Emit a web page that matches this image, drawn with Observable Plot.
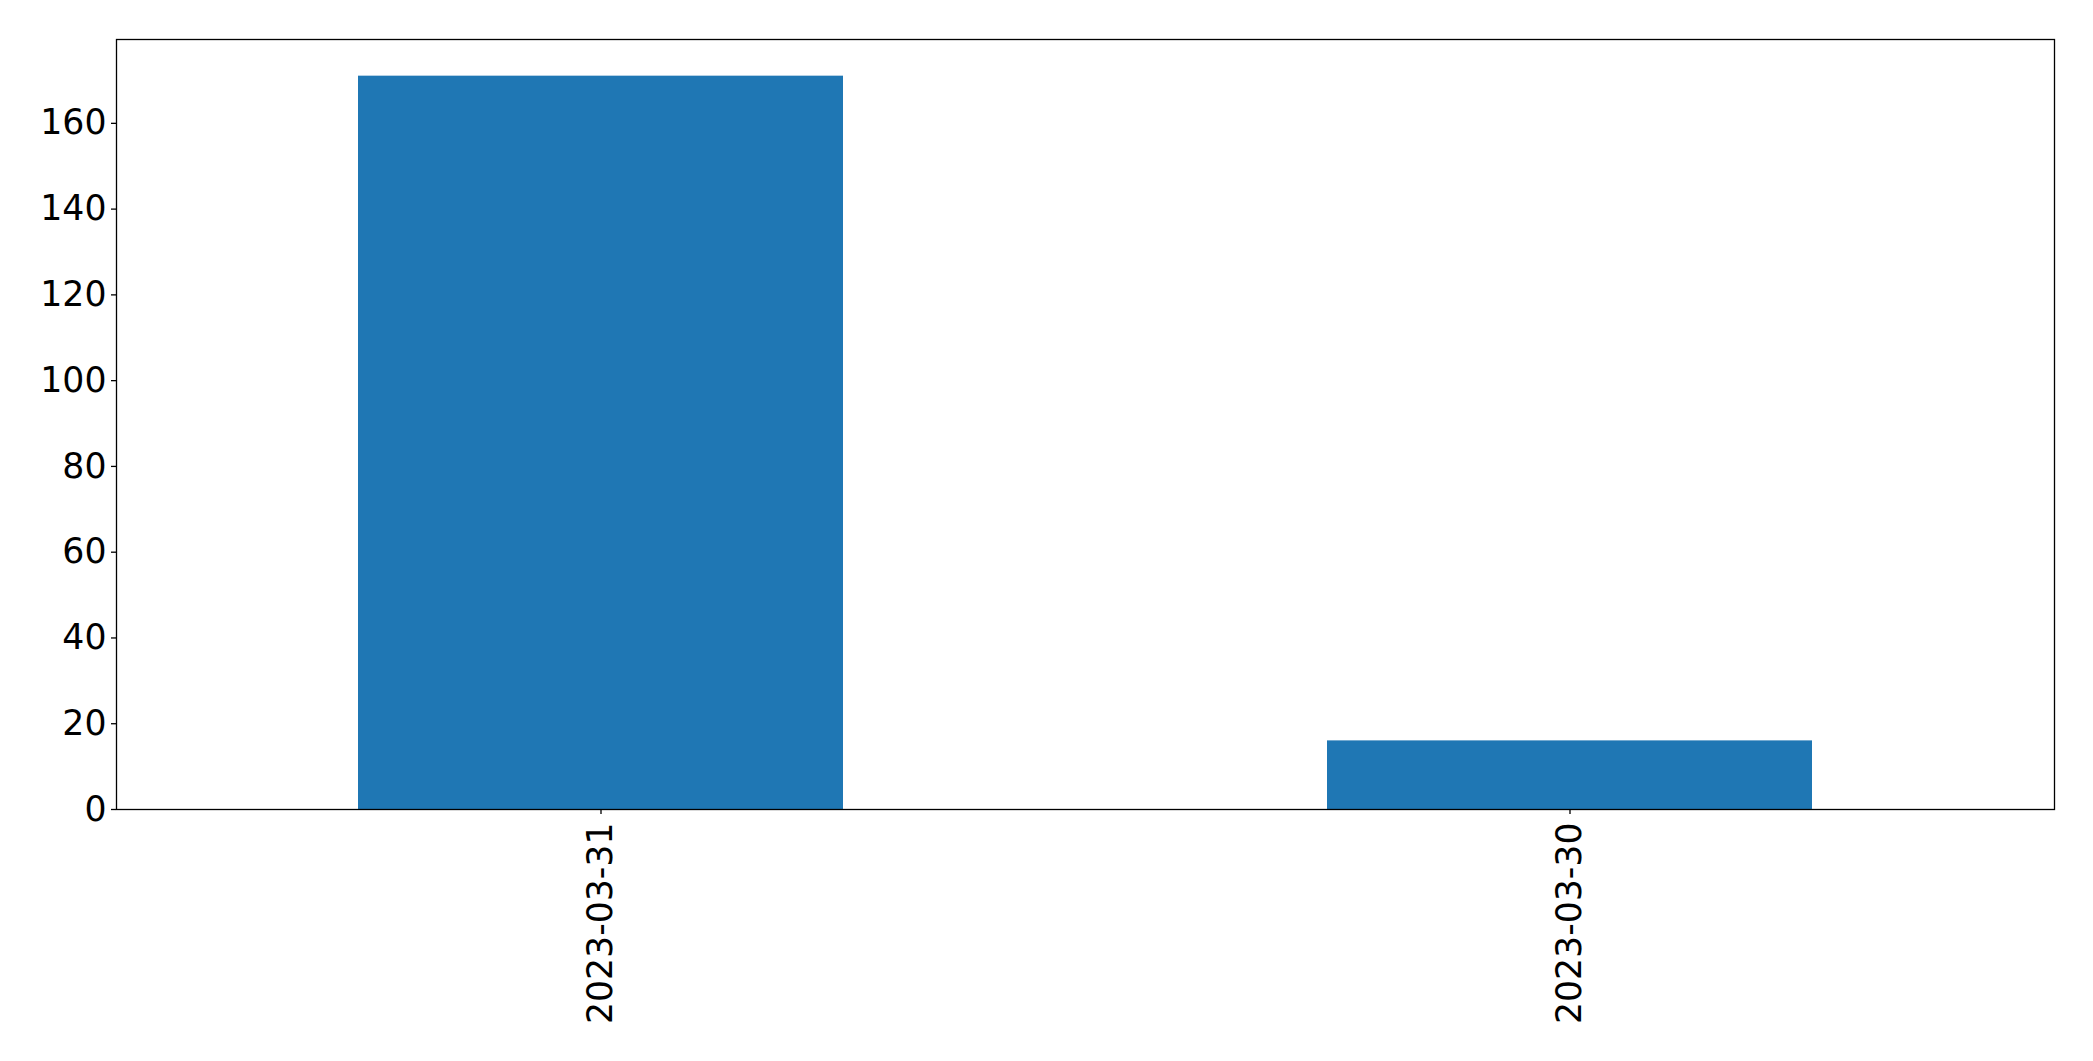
<!DOCTYPE html>
<html>
<head>
<meta charset="utf-8">
<script src="https://cdn.jsdelivr.net/npm/d3@7"></script>
<script src="https://cdn.jsdelivr.net/npm/@observablehq/plot@0.6"></script>
<style>
  html, body { margin: 0; padding: 0; background: #fff; }
  #chart svg { display: block; }
</style>
</head>
<body>
<div id="chart"></div>
<script>
const categories = ["2023-03-31", "2023-03-30"];
const counts = [171, 16];
const yTicks = [0, 20, 40, 60, 80, 100, 120, 140, 160];

const data = categories.map((c, i) => ({date: c, count: counts[i]}));

const chart = Plot.plot({
  width: 2093,
  height: 1061,
  marginLeft: 116,
  marginRight: 39,
  marginTop: 39,
  marginBottom: 252,
  style: {fontFamily: "DejaVu Sans", fontSize: "34.7px", color: "#000", background: "#fff"},
  x: {domain: categories, paddingInner: 0.5, paddingOuter: 0.25, label: null},
  y: {domain: [0, 179.55], label: null},
  marks: [
    Plot.barY(data, {x: "date", y: "count", fill: "#1f77b4"}),
    Plot.axisY({ticks: yTicks, tickSize: 5, tickPadding: 5, label: null, stroke: "#000", strokeWidth: 1.3, fontSize: 34.7}),
    Plot.axisX({tickSize: 5, tickPadding: 8, tickRotate: -90, label: null, stroke: "#000", strokeWidth: 1.3, fontSize: 34.7}),
    Plot.frame({stroke: "#000", strokeWidth: 1.3})
  ]
});
document.getElementById("chart").appendChild(chart);
</script>
</body>
</html>
